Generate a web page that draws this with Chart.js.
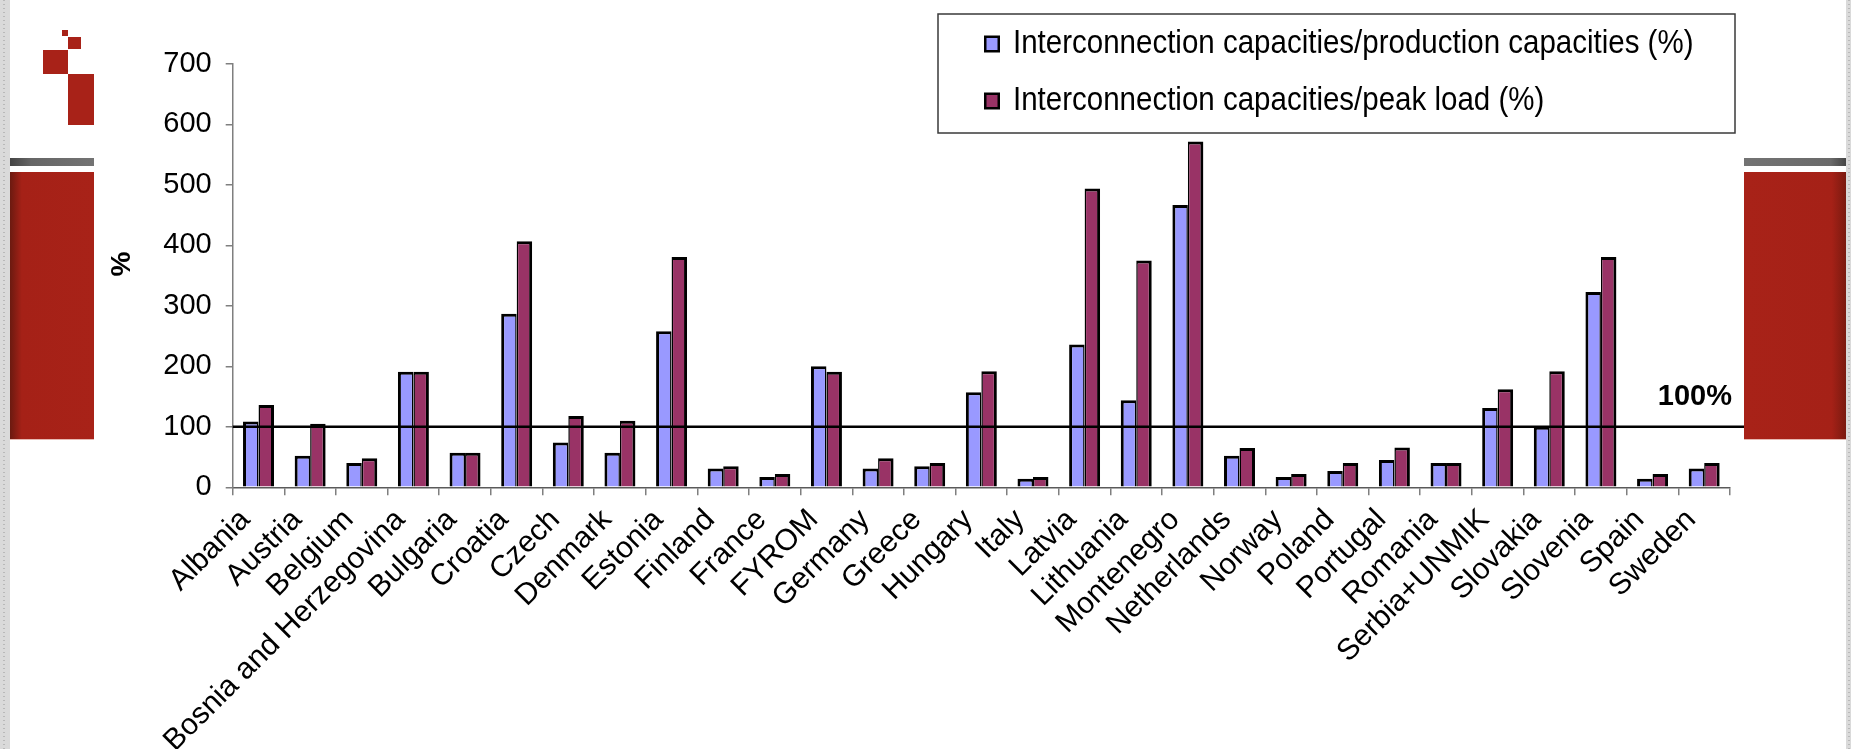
<!DOCTYPE html>
<html>
<head>
<meta charset="utf-8">
<title>Interconnection capacities</title>
<script src="https://cdn.jsdelivr.net/npm/chart.js@4/dist/chart.umd.min.js"></script>
<style>
  html, body { margin: 0; padding: 0; background: #ffffff; }
  #page { position: relative; width: 1851px; height: 749px; overflow: hidden; background: #ffffff; }
  .edge { position: absolute; top: 0; height: 749px; background-color: #dadada;
          background-image: repeating-linear-gradient(to bottom, #b9b9b9 0 1px, transparent 1px 4px); }
  #edgeL { left: 0; width: 10px; background-size: 2px 4px; background-position: 3px 0; background-repeat: repeat-y; }
  #edgeR { right: 0; width: 5px; background-size: 2px 4px; background-position: 2px 0; background-repeat: repeat-y; }
  .greyBar { position: absolute; top: 158px; height: 8px; }
  #greyL { left: 10px; width: 84px; background: linear-gradient(to right, #444 0%, #666 25%, #737373 100%); }
  #greyR { left: 1744px; width: 102px; background: linear-gradient(to right, #737373 0%, #6a6a6a 85%, #444 100%); }
  .redPanel { position: absolute; top: 172px; height: 267px; border-bottom: 1px solid #e7b9b2; }
  #redL { left: 10px; width: 84px; background: linear-gradient(to right, #6b1a10 0%, #a52117 14%, #a82218 100%); }
  #redR { left: 1744px; width: 102px; background: linear-gradient(to right, #a82218 0%, #a52117 86%, #7a1a10 100%); }
  .sq { position: absolute; background: #a82218; }
  #chartCanvas { position: absolute; left: 0; top: 0; }
</style>
</head>
<body>
<div id="page">
  <div class="edge" id="edgeL"></div>
  <div class="edge" id="edgeR"></div>
  <div class="sq" style="left:62px;top:30px;width:6px;height:6px;"></div>
  <div class="sq" style="left:68px;top:37px;width:13px;height:12px;"></div>
  <div class="sq" style="left:43px;top:50px;width:25px;height:24px;"></div>
  <div class="sq" style="left:68px;top:74px;width:26px;height:51px;"></div>
  <div class="greyBar" id="greyL"></div>
  <div class="greyBar" id="greyR"></div>
  <div class="redPanel" id="redL"></div>
  <div class="redPanel" id="redR"></div>
  <canvas id="chartCanvas" width="1851" height="749"></canvas>
</div>
<script>
// Countries on the category axis
const countries = [
  'Albania', 'Austria', 'Belgium', 'Bosnia and Herzegovina', 'Bulgaria', 'Croatia',
  'Czech', 'Denmark', 'Estonia', 'Finland', 'France', 'FYROM', 'Germany', 'Greece',
  'Hungary', 'Italy', 'Latvia', 'Lithuania', 'Montenegro', 'Netherlands', 'Norway',
  'Poland', 'Portugal', 'Romania', 'Serbia+UNMIK', 'Slovakia', 'Slovenia', 'Spain', 'Sweden'
];

// Interconnection capacities / production capacities (%)
const productionPct = [
  109, 52, 40, 191, 57, 287, 74, 57, 258, 31, 17, 200, 31, 35,
  157, 14, 236, 144, 467, 52, 17, 27, 45, 40, 131, 100, 323, 14, 31
];

// Interconnection capacities / peak load (%)
const peakLoadPct = [
  136, 105, 48, 191, 57, 407, 118, 110, 381, 35, 22, 191, 48, 40,
  192, 17, 494, 375, 572, 65, 22, 40, 66, 40, 162, 192, 381, 22, 40
];

const seriesNames = [
  'Interconnection capacities/production capacities (%)',
  'Interconnection capacities/peak load (%)'
];

// Value axis
const yMin = 0;
const yMax = 700;
const yStep = 100;
const referenceLevel = 100;
const referenceLabel = '100%';
const yTitle = '%';

const FONT = '"Liberation Sans", Arial, Helvetica, sans-serif';

// Threshold line, its label, the value-axis title and the boxed legend
const overlayPlugin = {
  id: 'overlay',
  afterDatasetsDraw(chart) {
    const { ctx, chartArea, scales } = chart;
    const y = scales.y.getPixelForValue(referenceLevel);
    ctx.save();
    ctx.strokeStyle = '#000000';
    ctx.lineWidth = 2.5;
    ctx.beginPath();
    ctx.moveTo(chartArea.left, y);
    ctx.lineTo(1744, y);
    ctx.stroke();
    ctx.fillStyle = '#000000';
    ctx.font = 'bold 29px ' + FONT;
    ctx.textAlign = 'right';
    ctx.textBaseline = 'alphabetic';
    ctx.fillText(referenceLabel, 1732, y - 22);
    ctx.restore();
  },
  afterDraw(chart) {
    const { ctx } = chart;
    ctx.save();
    // value-axis title
    ctx.translate(122.5, 264);
    ctx.rotate(-Math.PI / 2);
    ctx.font = 'bold 28px ' + FONT;
    ctx.fillStyle = '#000000';
    ctx.textAlign = 'center';
    ctx.textBaseline = 'middle';
    ctx.fillText(yTitle, 0, 0);
    ctx.restore();

    // legend box
    ctx.save();
    ctx.fillStyle = '#ffffff';
    ctx.fillRect(938, 14, 797, 119);
    ctx.strokeStyle = '#3a3a3a';
    ctx.lineWidth = 1.5;
    ctx.strokeRect(938, 14, 797, 119);
    const baselines = [52.5, 109.5];
    chart.data.datasets.forEach((ds, i) => {
      const by = baselines[i];
      ctx.fillStyle = '#000000';
      ctx.fillRect(984, by - 17, 16, 17);
      ctx.fillStyle = ds.backgroundColor;
      ctx.fillRect(986.5, by - 14.5, 11, 12);
      ctx.save();
      ctx.translate(1013, by);
      ctx.scale(1, 1.1);
      ctx.font = '29.5px ' + FONT;
      ctx.fillStyle = '#000000';
      ctx.textAlign = 'left';
      ctx.textBaseline = 'alphabetic';
      ctx.fillText(ds.label, 0, 0);
      ctx.restore();
    });
    ctx.restore();
  }
};

const xTickFont = { family: FONT, size: 30 };
const yTickFont = { family: FONT, size: 29 };

new Chart(document.getElementById('chartCanvas'), {
  type: 'bar',
  data: {
    labels: countries,
    datasets: [
      {
        label: seriesNames[0],
        data: productionPct,
        backgroundColor: '#9999ff',
        borderColor: '#000000',
        borderWidth: { top: 3, left: 3, right: 1.5, bottom: 0 },
        borderSkipped: false
      },
      {
        label: seriesNames[1],
        data: peakLoadPct,
        backgroundColor: '#993366',
        borderColor: '#000000',
        borderWidth: { top: 3, left: 1.5, right: 3, bottom: 0 },
        borderSkipped: false
      }
    ]
  },
  options: {
    responsive: false,
    animation: false,
    devicePixelRatio: 1,
    layout: { padding: { left: 0, right: 121, top: 64, bottom: 0 } },
    datasets: { bar: { categoryPercentage: 0.6, barPercentage: 1.0 } },
    plugins: {
      legend: { display: false },
      tooltip: { enabled: false }
    },
    scales: {
      x: {
        grid: { offset: true, drawOnChartArea: false, tickLength: 8, color: '#7f7f7f', lineWidth: 1.5 },
        border: { display: true, color: '#5a5a5a', width: 1.5 },
        ticks: {
          font: xTickFont,
          color: '#000000',
          minRotation: 45,
          maxRotation: 45,
          autoSkip: false,
          padding: 7,
          labelOffset: -13
        },
        afterFit(scale) { scale.height = 749 - 487.3; }
      },
      y: {
        min: yMin,
        max: yMax,
        grid: { drawOnChartArea: false, tickLength: 7, color: '#7f7f7f', lineWidth: 1.5 },
        border: { display: true, color: '#7f7f7f', width: 1.5 },
        ticks: { stepSize: yStep, font: yTickFont, color: '#000000', padding: 14 },
        afterFit(scale) { scale.width = 232.7; }
      }
    }
  },
  plugins: [overlayPlugin]
});
</script>
</body>
</html>
